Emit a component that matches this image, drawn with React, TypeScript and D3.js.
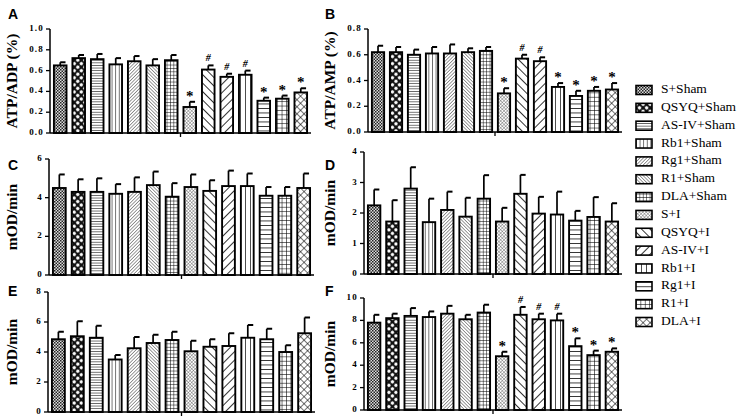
import React from 'react';
import * as d3 from 'd3';

// groups in legend / bar order
const groups = [
  'S+Sham', 'QSYQ+Sham', 'AS-IV+Sham', 'Rb1+Sham', 'Rg1+Sham', 'R1+Sham', 'DLA+Sham',
  'S+I', 'QSYQ+I', 'AS-IV+I', 'Rb1+I', 'Rg1+I', 'R1+I', 'DLA+I',
];

const atpAdp = [0.65, 0.72, 0.71, 0.66, 0.69, 0.65, 0.70, 0.25, 0.61, 0.54, 0.56, 0.31, 0.33, 0.39];
const atpAdpErr = [0.03, 0.03, 0.05, 0.06, 0.05, 0.06, 0.05, 0.05, 0.04, 0.03, 0.04, 0.03, 0.03, 0.04];
const atpAdpMarks = ['', '', '', '', '', '', '', '*', '#', '#', '#', '*', '*', '*'];

const atpAmp = [0.62, 0.62, 0.60, 0.61, 0.61, 0.62, 0.63, 0.30, 0.57, 0.55, 0.35, 0.28, 0.32, 0.33];
const atpAmpErr = [0.05, 0.04, 0.04, 0.05, 0.07, 0.03, 0.03, 0.04, 0.03, 0.03, 0.03, 0.04, 0.03, 0.05];
const atpAmpMarks = ['', '', '', '', '', '', '', '*', '#', '#', '*', '*', '*', '*'];

const rateC = [4.5, 4.3, 4.3, 4.2, 4.3, 4.65, 4.05, 4.55, 4.35, 4.6, 4.6, 4.1, 4.1, 4.5];
const rateCErr = [0.7, 0.65, 0.7, 0.5, 0.75, 0.7, 0.7, 0.65, 0.55, 0.8, 0.65, 0.45, 0.45, 0.75];

const rateD = [2.25, 1.72, 2.8, 1.7, 2.1, 1.88, 2.47, 1.72, 2.63, 1.98, 1.95, 1.75, 1.87, 1.72];
const rateDErr = [0.52, 0.7, 0.7, 0.77, 0.6, 0.62, 0.77, 0.45, 0.62, 0.55, 0.75, 0.32, 0.65, 0.6];

const rateE = [4.85, 5.05, 4.95, 3.5, 4.25, 4.6, 4.8, 4.05, 4.35, 4.4, 4.95, 4.85, 4.0, 5.25];
const rateEErr = [0.5, 1.0, 0.8, 0.3, 0.75, 0.55, 0.55, 0.7, 0.5, 0.85, 0.85, 0.7, 0.45, 1.05];

const rateF = [7.8, 8.2, 8.4, 8.3, 8.6, 8.1, 8.7, 4.8, 8.5, 8.1, 8.0, 5.7, 4.9, 5.2];
const rateFErr = [0.7, 0.4, 0.7, 0.5, 0.7, 0.4, 0.7, 0.4, 0.7, 0.5, 0.6, 0.7, 0.4, 0.3];
const rateFMarks = ['', '', '', '', '', '', '', '*', '#', '#', '#', '*', '*', '*'];

const noMarks = groups.map(() => '');

interface Panel {
  letter: string;
  title: string;
  values: number[];
  errors: number[];
  marks: string[];
  max: number;
  step: number;
  fmt: string;
  x0: number;
  x1: number;
  top: number;
  bottom: number;
  letterX: number;
  letterY: number;
  titleX: number;
}

const panels: Panel[] = [
  { letter: 'A', title: 'ATP/ADP (%)', values: atpAdp, errors: atpAdpErr, marks: atpAdpMarks, max: 1.0, step: 0.2, fmt: '.1f',
    x0: 50, x1: 311, top: 29, bottom: 133, letterX: 8, letterY: 19, titleX: 17 },
  { letter: 'B', title: 'ATP/AMP (%)', values: atpAmp, errors: atpAmpErr, marks: atpAmpMarks, max: 0.8, step: 0.2, fmt: '.1f',
    x0: 368, x1: 622, top: 29, bottom: 132, letterX: 325, letterY: 19, titleX: 335 },
  { letter: 'C', title: 'mOD/min', values: rateC, errors: rateCErr, marks: noMarks, max: 6, step: 2, fmt: 'd',
    x0: 49, x1: 314, top: 159, bottom: 275, letterX: 8, letterY: 170, titleX: 17 },
  { letter: 'D', title: 'mOD/min', values: rateD, errors: rateDErr, marks: noMarks, max: 4, step: 1, fmt: 'd',
    x0: 364, x1: 622, top: 152, bottom: 274, letterX: 325, letterY: 170, titleX: 335 },
  { letter: 'E', title: 'mOD/min', values: rateE, errors: rateEErr, marks: noMarks, max: 8, step: 2, fmt: 'd',
    x0: 48, x1: 315, top: 292, bottom: 412, letterX: 8, letterY: 296, titleX: 17 },
  { letter: 'F', title: 'mOD/min', values: rateF, errors: rateFErr, marks: rateFMarks, max: 10, step: 2, fmt: 'd',
    x0: 364, x1: 622, top: 298, bottom: 410, letterX: 325, letterY: 296, titleX: 335 },
];

// fill patterns, one per group
const Patterns = () => {
  const lines = (id: string, gap: number, w: number, angle: number, color = '#000') => (
    <pattern key={id} id={id} width={gap} height={gap} patternUnits="userSpaceOnUse" patternTransform={`rotate(${angle})`}>
      <rect width={gap} height={gap} fill="#fff" />
      <line x1={0} y1={0} x2={0} y2={gap} stroke={color} strokeWidth={w} />
    </pattern>
  );
  const grid = (id: string, gap: number, w: number, angle: number, color = '#000') => (
    <pattern key={id} id={id} width={gap} height={gap} patternUnits="userSpaceOnUse" patternTransform={`rotate(${angle})`}>
      <rect width={gap} height={gap} fill="#fff" />
      <line x1={0} y1={0} x2={0} y2={gap} stroke={color} strokeWidth={w} />
      <line x1={0} y1={0} x2={gap} y2={0} stroke={color} strokeWidth={w} />
    </pattern>
  );
  return (
    <defs>
      <pattern id="p0" width={3} height={3} patternUnits="userSpaceOnUse">
        <rect width={3} height={3} fill="#ddd" />
        <rect width={1.5} height={1.5} fill="#222" />
        <rect x={1.5} y={1.5} width={1.5} height={1.5} fill="#222" />
      </pattern>
      <pattern id="p1" width={5} height={5} patternUnits="userSpaceOnUse" patternTransform="rotate(45)">
        <rect width={5} height={5} fill="#111" />
        <circle cx={2.5} cy={2.5} r={1.7} fill="#fff" />
      </pattern>
      {lines('p2', 2.6, 1.1, 90)}
      {lines('p3', 3.6, 1.1, 0)}
      {lines('p4', 2.4, 0.9, 45, '#222')}
      {lines('p5', 2.4, 0.9, -45, '#222')}
      {grid('p6', 3.4, 1, 0)}
      {grid('p7', 2.4, 0.7, 45, '#444')}
      {lines('p8', 6, 1.6, -45)}
      {lines('p9', 6, 1.6, 45)}
      {lines('p10', 5, 1.4, 0)}
      {lines('p11', 4.5, 1.5, 90)}
      {grid('p12', 4.4, 1.1, 0)}
      {grid('p13', 5, 1.1, 45)}
    </defs>
  );
};

const serif = '"Liberation Serif", "Times New Roman", serif';
const sans = '"Liberation Sans", Arial, sans-serif';

const BarPanel = ({ p }: { p: Panel }) => {
  const x = d3.scaleBand<string>().domain(groups).range([p.x0 + 3, p.x1 - 3]).paddingInner(0.32).paddingOuter(0.05);
  const y = d3.scaleLinear().domain([0, p.max]).range([p.bottom, p.top]);
  const ticks = d3.range(0, p.max + p.step / 2, p.step);
  const f = d3.format(p.fmt);
  const bw = x.bandwidth();
  const midY = (p.top + p.bottom) / 2;
  return (
    <g>
      <text x={p.letterX} y={p.letterY} fill="#000" fontFamily={sans} fontWeight="bold" fontSize={14}>{p.letter}</text>
      <text transform={`translate(${p.titleX},${midY}) rotate(-90)`} textAnchor="middle" fill="#000"
        fontFamily={serif} fontWeight="bold" fontSize={15.5}>{p.title}</text>
      {groups.map((g, i) => {
        const v = p.values[i];
        const e = p.errors[i];
        const bx = x(g)!;
        const cx = bx + bw / 2;
        const m = p.marks[i];
        return (
          <g key={g}>
            <line x1={cx} x2={cx} y1={y(v)} y2={y(v + e)} stroke="#000" strokeWidth={1.7} />
            <line x1={cx} x2={cx + bw / 2 - 1} y1={y(v + e)} y2={y(v + e)} stroke="#000" strokeWidth={2} />
            <rect x={bx} y={y(v)} width={bw} height={p.bottom - y(v)} fill={`url(#p${i})`} stroke="#000" strokeWidth={1.9} />
            {m && (
              <text x={cx} y={y(v + e) - (m === '*' ? 1 : 4)} textAnchor="middle" fill="#000"
                fontFamily={serif} fontWeight="bold" fontSize={m === '*' ? 15 : 10} fontStyle={m === '#' ? 'italic' : 'normal'}>
                {m}
              </text>
            )}
          </g>
        );
      })}
      <line x1={p.x0} x2={p.x0} y1={p.top} y2={p.bottom} stroke="#000" strokeWidth={1.5} />
      {ticks.map(t => (
        <g key={t}>
          <line x1={p.x0 - 4} x2={p.x0} y1={y(t)} y2={y(t)} stroke="#000" strokeWidth={1.3} />
          <text x={p.x0 - 6} y={y(t)} textAnchor="end" dominantBaseline="middle" fill="#000" letterSpacing={1.2}
            fontFamily={serif} fontWeight="bold" fontSize={9}>{f(t)}</text>
        </g>
      ))}
      <line x1={p.x0} x2={p.x1} y1={p.bottom} y2={p.bottom} stroke="#000" strokeWidth={1.5} />
      <line x1={(p.x0 + p.x1) / 2} x2={(p.x0 + p.x1) / 2} y1={p.bottom} y2={p.bottom + 4} stroke="#000" strokeWidth={1.3} />
    </g>
  );
};

const legendY = d3.scaleLinear().domain([0, groups.length - 1]).range([90, 322]);

export default function App() {
  return (
    <svg width={737} height={417} viewBox="0 0 737 417"
      style={{ position: 'absolute', left: 0, top: 0, background: '#fff', display: 'block' }}>
      <Patterns />
      {panels.map(p => <BarPanel key={p.letter} p={p} />)}
      <g>
        {groups.map((g, i) => (
          <g key={g} transform={`translate(636,${legendY(i)})`}>
            <rect x={0} y={-4.5} width={16} height={9} fill={`url(#p${i})`} stroke="#000" strokeWidth={1.6} />
            <text x={25} y={0} dominantBaseline="middle" fill="#000" fontFamily={serif} fontSize={13.5}>{g}</text>
          </g>
        ))}
      </g>
    </svg>
  );
}
